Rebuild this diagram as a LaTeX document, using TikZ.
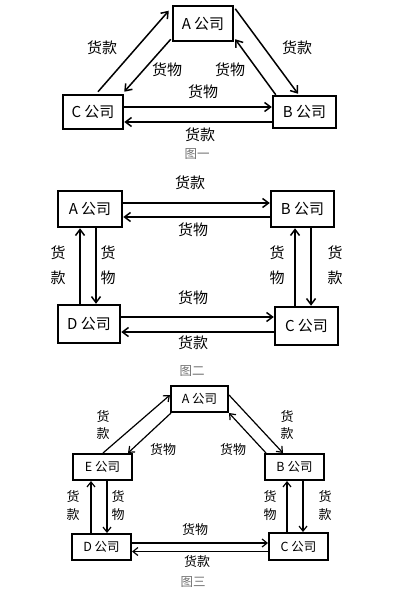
\documentclass[tikz,border=0pt]{standalone}
\usepackage{fontspec}
\setmainfont{Noto Sans CJK SC}
\usetikzlibrary{arrows.meta,calc}
\tikzset{
  boxa/.style={draw,line width=2.5pt,inner sep=0pt,font=\fontsize{15}{18}\selectfont},
  boxc/.style={draw,line width=2pt,inner sep=0pt,minimum width=59pt,minimum height=26pt,font=\fontsize{12.5}{15}\selectfont},
  flowa/.style={line width=1.5pt,-{Straight Barb[length=6pt,width=9pt,line width=1.5pt]}},
  flowc/.style={line width=1.2pt,-{Straight Barb[length=5pt,width=8pt,line width=1.2pt]}},
  lbla/.style={inner sep=0pt,font=\fontsize{15}{17}\selectfont},
  lblc/.style={inner sep=0pt,font=\fontsize{13}{16}\selectfont},
  capt/.style={inner sep=0pt,text=black!55,font=\fontsize{12.5}{15}\selectfont}
}
\begin{document}
\begin{tikzpicture}[x=1pt,y=-1pt]
\useasboundingbox[fill=white] (0,0) rectangle (400,596);
% ---------------- Figure 1 ----------------
\node[boxa,minimum width=60pt,minimum height=35pt] (A1) at (203,23.5) {A 公司};
\node[boxa,minimum width=60pt,minimum height=34pt] (C1) at (93,112) {C 公司};
\node[boxa,minimum width=63pt,minimum height=32pt] (B1) at (304.5,112) {B 公司};
\draw[flowa] ([shift={(5,-2)}]C1.north) -- ([shift={(-3,6)}]A1.north west);
\draw[flowa] ([shift={(-1,-3)}]A1.south west) -- ([shift={(0,-2)}]C1.north east);
\draw[flowa] ([shift={(1,4)}]A1.north east) -- ([shift={(-6.5,-1)}]B1.north);
\draw[flowa] ([shift={(4,0)}]B1.north west) -- ([shift={(1,-3)}]A1.south east);
\draw[flowa] ([shift={(0,-5)}]C1.east) -- ([shift={(0,-5)}]C1.east -| B1.west);
\draw[flowa] ([shift={(0,10)}]B1.west) -- ([shift={(0,10)}]B1.west -| C1.east);
\node[lbla] (l11) at (102,48) {货款};
\node[lbla] (l12) at (167,70) {货物};
\node[lbla] (l13) at (230,70) {货物};
\node[lbla] (l14) at (297,48) {货款};
\node[lbla] (l15) at (203,92) {货物};
\node[lbla] (l16) at (200,135) {货款};
\node[capt] (cap1) at (197,154) {图一};
% ---------------- Figure 2 ----------------
\node[boxa,minimum width=64pt,minimum height=36pt] (A2) at (90,209) {A 公司};
\node[boxa,minimum width=63pt,minimum height=36pt] (B2) at (302.5,209) {B 公司};
\node[boxa,minimum width=62pt,minimum height=38pt] (D2) at (89,324) {D 公司};
\node[boxa,minimum width=63pt,minimum height=38pt] (C2) at (306.5,326) {C 公司};
\draw[flowa] ([shift={(0,-6)}]A2.east) -- ([shift={(0,-6)}]A2.east -| B2.west);
\draw[flowa] ([shift={(0,8)}]B2.west) -- ([shift={(0,8)}]B2.west -| A2.east);
\draw[flowa] ([shift={(-9,0)}]D2.north) -- ([shift={(-9,0)}]D2.north |- A2.south);
\draw[flowa] ([shift={(6,0)}]A2.south) -- ([shift={(6,0)}]A2.south |- D2.north);
\draw[flowa] ([shift={(-11.5,0)}]C2.north) -- ([shift={(-11.5,0)}]C2.north |- B2.south);
\draw[flowa] ([shift={(8.5,0)}]B2.south) -- ([shift={(8.5,0)}]B2.south |- C2.north);
\draw[flowa] ([shift={(0,-7)}]D2.east) -- ([shift={(0,-7)}]D2.east -| C2.west);
\draw[flowa] ([shift={(0,6)}]C2.west) -- ([shift={(0,6)}]C2.west -| D2.east);
\node[lbla] (l21) at (190,183) {货款};
\node[lbla] (l22) at (193,230) {货物};
\node[lbla,align=center] (l23) at (58,265) {货\\[8pt]款};
\node[lbla,align=center] (l24) at (108,265) {货\\[8pt]物};
\node[lbla,align=center] (l25) at (277,265) {货\\[8pt]物};
\node[lbla,align=center] (l26) at (335,265) {货\\[8pt]款};
\node[lbla] (l27) at (193,298) {货物};
\node[lbla] (l28) at (193,343) {货款};
\node[capt] (cap2) at (192,371) {图二};
% ---------------- Figure 3 ----------------
\node[boxc,minimum width=57pt] (A3) at (199.5,399) {A 公司};
\node[boxc] (E3) at (102.5,467) {E 公司};
\node[boxc] (B3) at (294.5,467) {B 公司};
\node[boxc] (D3) at (101.5,547) {D 公司};
\node[boxc,minimum height=27pt] (C3) at (298.5,546.5) {C 公司};
\draw[flowc] ([shift={(0.5,0)}]E3.north) -- ([shift={(0,-4)}]A3.west);
\draw[flowc] ([shift={(1,0)}]A3.south west) -- ([shift={(-5,0)}]E3.north east);
\draw[flowc] ([shift={(0,-4)}]A3.east) -- ([shift={(-11.5,0)}]B3.north);
\draw[flowc] ([shift={(2,0)}]B3.north west) -- (A3.south east);
\draw[flowc] ([shift={(-10.5,0)}]D3.north) -- ([shift={(-10.5,0)}]D3.north |- E3.south);
\draw[flowc] ([shift={(4.5,0)}]E3.south) -- ([shift={(4.5,0)}]E3.south |- D3.north);
\draw[flowc] ([shift={(-11.5,0)}]C3.north) -- ([shift={(-11.5,0)}]C3.north |- B3.south);
\draw[flowc] ([shift={(8.5,0)}]B3.south) -- ([shift={(8.5,0)}]B3.south |- C3.north);
\draw[flowc] ([shift={(0,-4)}]D3.east) -- ([shift={(0,-4)}]D3.east -| C3.west);
\draw[flowc] ([shift={(0,5)}]C3.west) -- ([shift={(0,5)}]C3.west -| D3.east);
\node[lblc,align=center] (l31) at (103,425) {货\\[1pt]款};
\node[lblc] (l32) at (163,450) {货物};
\node[lblc] (l33) at (233,450) {货物};
\node[lblc,align=center] (l34) at (287,425) {货\\[1pt]款};
\node[lblc,align=center] (l35) at (73,506) {货\\[2pt]款};
\node[lblc,align=center] (l36) at (118,506) {货\\[2pt]物};
\node[lblc,align=center] (l37) at (270,506) {货\\[2pt]物};
\node[lblc,align=center] (l38) at (325,506) {货\\[2pt]款};
\node[lblc] (l39) at (195,530) {货物};
\node[lblc] (l3a) at (197,562) {货款};
\node[capt] (cap3) at (193,582) {图三};
\end{tikzpicture}
\end{document}
